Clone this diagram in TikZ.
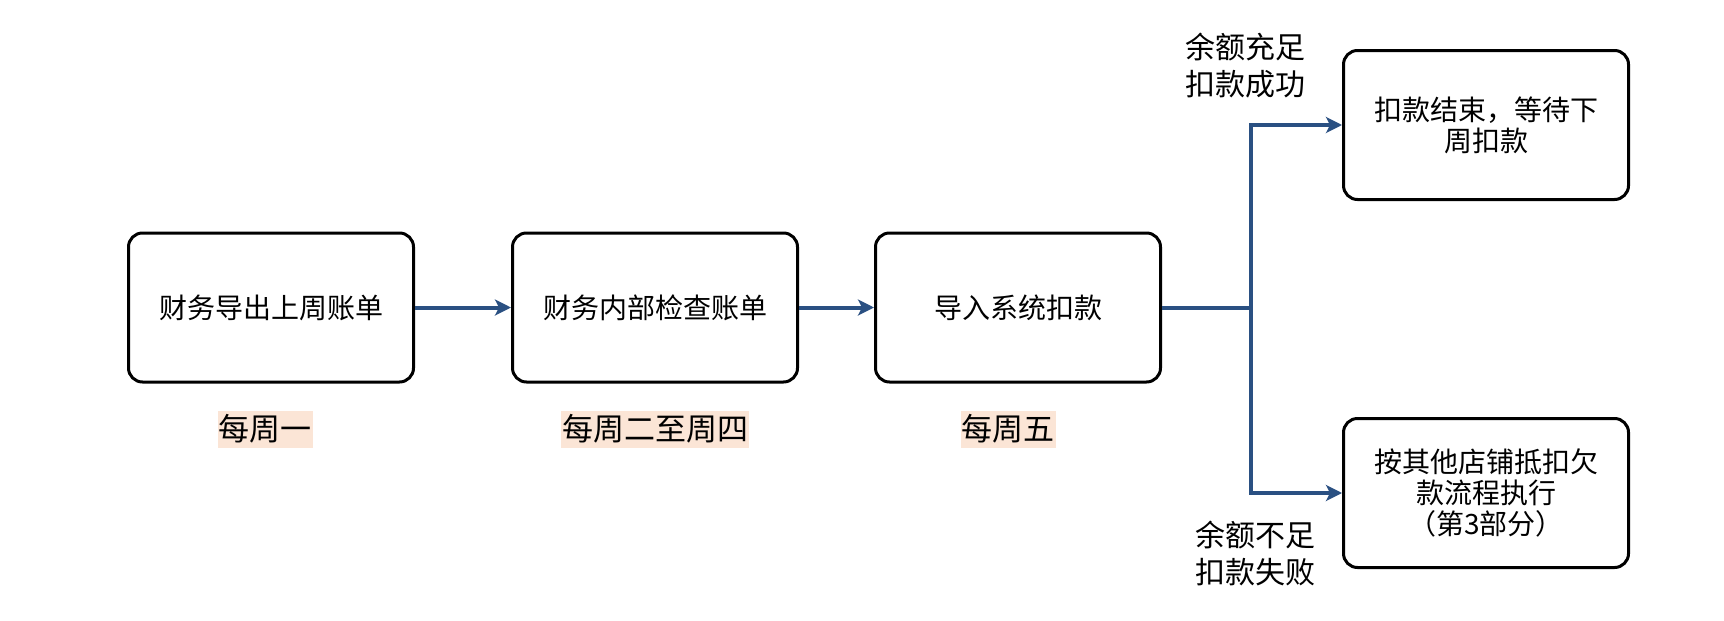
\documentclass[tikz,border=0pt]{standalone}
\usepackage{fontspec}
\setmainfont{Noto Sans CJK SC}
\usetikzlibrary{positioning}
\usetikzlibrary{arrows.meta}
\definecolor{flowblue}{HTML}{2A5082}
\definecolor{daypeach}{HTML}{FBE5D6}
\tikzset{%
  flowline/.style = {flowblue,line width=4pt},
  flowarrow/.style = {flowline,-{Stealth[length=16pt,width=16pt,inset=4pt]}},
  stage/.style = {rectangle,draw,line width=3pt,rounded corners=14pt,
        minimum width=285pt,minimum height=149pt,align=center,
        font=\fontsize{28}{31}\selectfont},
  weekday/.style = {fill=daypeach,inner xsep=1pt,inner ysep=4pt,
        font=\fontsize{31}{36}\selectfont},
  note/.style = {align=left,font=\fontsize{30}{37}\selectfont}
}
\begin{document}
\begin{tikzpicture}[x=1pt,y=-1pt]
    \useasboundingbox (0,0) rectangle (1724,621);
    % weekly steps
    \node[stage] (export) at (271,307.5) {财务导出上周账单};
    \node[stage, right=96pt of export] (check) {财务内部检查账单};
    \node[stage, right=75pt of check] (import) {导入系统扣款};
    \node[weekday, below=27pt of export, xshift=-6pt] (mon) {每周一};
    \node[weekday, below=27pt of check] (tuethu) {每周二至周四};
    \node[weekday, below=27pt of import, xshift=-10pt] (fri) {每周五};
    % outcomes
    \node[stage] (done) at (1486,125) {扣款结束，等待下\\周扣款};
    \node[stage] (other) at (1486,493) {按其他店铺抵扣欠\\款流程执行\\（第3部分）};
    \node[note] (enough) at (1245,66) {余额充足\\扣款成功};
    \node[note] (short) at (1255,553) {余额不足\\扣款失败};
    \coordinate (split) at (1251,307.5);
    \draw[flowarrow] (export) -- (check);
    \draw[flowarrow] (check) -- (import);
    \draw[flowline] (import) -- (split);
    \draw[flowarrow] (split) |- (done);
    \draw[flowarrow] (split) |- (other);
\end{tikzpicture}
\end{document}
